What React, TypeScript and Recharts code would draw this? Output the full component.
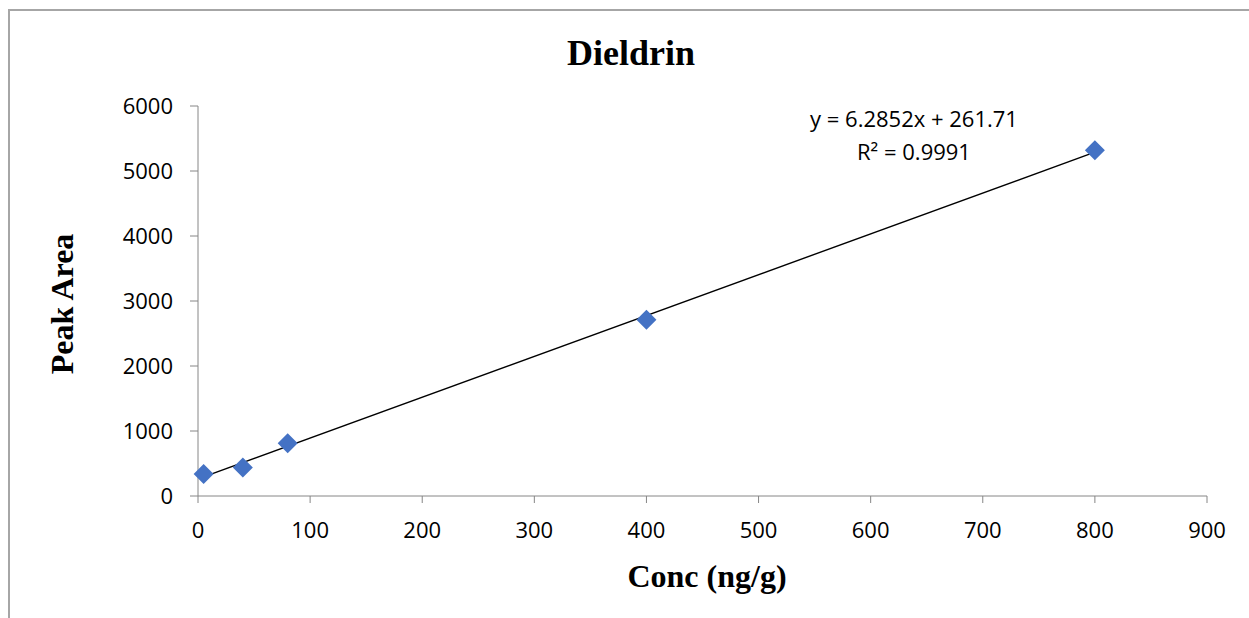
import React from 'react';
import { ScatterChart, Scatter, XAxis, YAxis, ReferenceLine } from 'recharts';

// calibration points (concentration in ng/g vs peak area)
const conc = [5, 40, 80, 400, 800];
const peakArea = [340, 440, 810, 2710, 5320];

const xTicks = [0, 100, 200, 300, 400, 500, 600, 700, 800, 900];
const yTicks = [0, 1000, 2000, 3000, 4000, 5000, 6000];

// linear fit reported on the chart
const slope = 6.2852;
const intercept = 261.71;
const rSquared = '0.9991';

const points = conc.map((x, i) => ({ x, y: peakArea[i] }));
const fitStart = { x: conc[0], y: slope * conc[0] + intercept };
const fitEnd = { x: conc[conc.length - 1], y: slope * conc[conc.length - 1] + intercept };

const sans = '"Open Sans", Calibri, sans-serif';
const serif = '"Liberation Serif", "Times New Roman", serif';
const axisGrey = '#868686';

const Diamond = (props: any) => {
  const { cx, cy } = props;
  const r = 10;
  return (
    <polygon
      points={`${cx},${cy - r} ${cx + r},${cy} ${cx},${cy + r} ${cx - r},${cy}`}
      fill="#4472C4"
    />
  );
};

export default function App() {
  return (
    <div style={{ position: 'absolute', left: 0, top: 0, width: 1249, height: 618, background: '#fff' }}>
      {/* chart frame, only the top and left edges show */}
      <div
        style={{
          position: 'absolute',
          left: 8,
          top: 9,
          right: 0,
          bottom: 0,
          borderTop: '2px solid #a6a6a6',
          borderLeft: '2px solid #a6a6a6',
        }}
      />
      <ScatterChart width={1249} height={618} margin={{ top: 106, right: 42, bottom: 62, left: 98 }}>
        <XAxis
          type="number"
          dataKey="x"
          domain={[0, 900]}
          ticks={xTicks}
          interval={0}
          height={60}
          tickSize={7}
          tickMargin={19}
          stroke={axisGrey}
          tick={{ fill: '#000', fontSize: 22, fontFamily: sans }}
        />
        <YAxis
          type="number"
          dataKey="y"
          domain={[0, 6000]}
          ticks={yTicks}
          interval={0}
          width={100}
          tickSize={8}
          tickMargin={17}
          stroke={axisGrey}
          tick={{ fill: '#000', fontSize: 22, fontFamily: sans }}
        />
        <Scatter data={points} shape={<Diamond />} isAnimationActive={false} />
        <ReferenceLine segment={[fitStart, fitEnd]} stroke="#000" strokeWidth={1.4} />
      </ScatterChart>

      <svg width={1249} height={618} style={{ position: 'absolute', left: 0, top: 0, pointerEvents: 'none' }}>
        <text x={631} y={65} textAnchor="middle" fontFamily={serif} fontWeight="bold" fontSize={36}>
          Dieldrin
        </text>
        <text
          x={73}
          y={304}
          textAnchor="middle"
          fontFamily={serif}
          fontWeight="bold"
          fontSize={32}
          transform="rotate(-90 73 304)"
        >
          Peak Area
        </text>
        <text x={707} y={587} textAnchor="middle" fontFamily={serif} fontWeight="bold" fontSize={32}>
          Conc (ng/g)
        </text>
        <text x={914} y={127} textAnchor="middle" fontFamily={sans} fontSize={22}>
          {`y = ${slope}x + ${intercept}`}
        </text>
        <text x={914} y={160} textAnchor="middle" fontFamily={sans} fontSize={22}>
          {`R² = ${rSquared}`}
        </text>
      </svg>
    </div>
  );
}
